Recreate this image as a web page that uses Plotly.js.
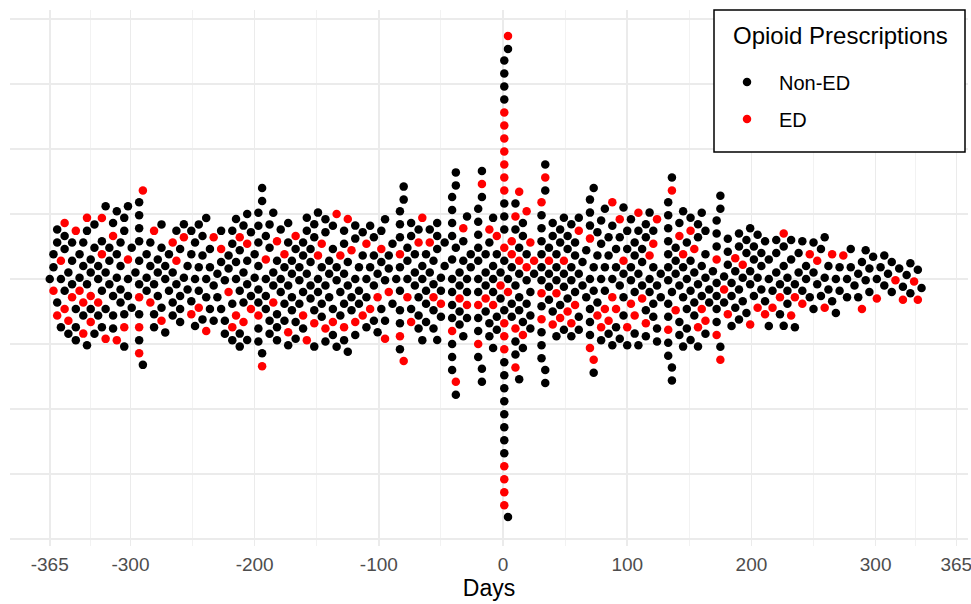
<!DOCTYPE html>
<html><head><meta charset="utf-8">
<script src="https://cdn.plot.ly/plotly-3.0.1.min.js"></script>
<style>html,body{margin:0;padding:0;background:#fff;} #chart{width:971px;height:604px;}</style>
</head><body><div id="chart"></div>
<script>
// Day (relative to index date), binned in 3-day steps
const days = [
 -365,-362,-359,-356,-353,-350,-347,-344,-341,-338,
 -335,-332,-329,-326,-323,-320,-317,-314,-311,-308,
 -305,-302,-299,-296,-293,-290,-287,-284,-281,-278,
 -275,-272,-269,-266,-263,-260,-257,-254,-251,-248,
 -245,-242,-239,-236,-233,-230,-227,-224,-221,-218,
 -215,-212,-209,-206,-203,-200,-197,-194,-191,-188,
 -185,-182,-179,-176,-173,-170,-167,-164,-161,-158,
 -155,-152,-149,-146,-143,-140,-137,-134,-131,-128,
 -125,-122,-119,-116,-113,-110,-107,-104,-101,-98,
 -95,-92,-89,-86,-83,-80,-77,-74,-71,-68,
 -65,-62,-59,-56,-53,-50,-47,-44,-41,-38,
 -35,-32,-29,-26,-23,-20,-17,-14,-11,-8,
 -5,-2,1,4,7,10,13,16,19,22,
 25,28,31,34,37,40,43,46,49,52,
 55,58,61,64,67,70,73,76,79,82,
 85,88,91,94,97,100,103,106,109,112,
 115,118,121,124,127,130,133,136,139,142,
 145,148,151,154,157,160,163,166,169,172,
 175,178,181,184,187,190,193,196,199,202,
 205,208,211,214,217,220,223,226,229,232,
 235,238,241,244,247,250,253,256,259,262,
 265,268,271,274,277,280,283,286,289,292,
 295,298,301,304,307,310,313,316,319,322,
 325,328,331,334,337
];
// Number of Non-ED opioid prescriptions in each bin
const nonED = [
 1,2,3,2,3,2,3,3,2,3,
 3,3,3,3,3,3,3,4,3,4,
 4,3,2,1,8,1,3,2,3,3,
 3,3,2,3,2,4,2,2,3,3,
 3,3,3,3,2,2,3,3,2,4,
 3,4,3,4,2,2,8,3,4,4,
 3,4,3,3,4,4,3,3,4,3,
 4,4,3,3,4,3,4,3,2,5,
 3,2,4,3,2,3,2,4,2,3,
 3,2,2,1,8,2,3,3,3,4,
 3,4,2,4,4,3,2,0,12,4,
 4,3,4,2,0,10,4,4,3,5,
 3,2,17,3,3,5,5,4,3,3,
 1,0,10,4,4,3,4,3,4,3,
 4,3,4,2,2,7,4,3,4,3,
 3,3,3,3,4,3,3,4,3,3,
 4,3,4,3,2,0,11,4,3,4,
 4,4,4,3,4,3,4,2,1,7,
 3,2,3,3,2,4,2,3,3,3,
 2,3,2,3,1,3,2,3,3,2,
 2,2,2,2,1,3,1,2,2,2,
 1,2,2,0,2,2,1,2,1,2,
 2,1,1,1,2,1,2,0,1,1,
 1,2,0,1,1
];
// Number of ED opioid prescriptions in each bin
const ED = [
 0,1,1,1,2,1,1,1,1,2,
 1,2,0,1,2,1,0,1,1,0,
 1,1,0,0,3,1,0,1,1,0,
 1,0,0,1,1,0,1,0,1,0,
 1,0,1,0,1,0,1,0,1,1,
 1,1,1,1,1,0,1,1,1,0,
 1,1,0,1,1,0,1,0,1,1,
 0,1,1,1,1,0,1,1,1,1,
 1,1,1,0,1,1,1,0,1,1,
 1,1,0,0,2,1,1,1,0,1,
 1,0,1,1,0,1,0,0,1,1,
 1,1,1,0,0,2,1,1,1,1,
 1,1,15,2,2,3,2,1,2,1,
 1,0,3,1,1,1,1,1,1,1,
 1,1,1,0,0,2,1,1,1,1,
 1,2,1,1,1,1,1,1,1,1,
 1,1,1,1,0,0,1,1,1,1,
 1,0,1,1,1,1,1,0,0,2,
 1,1,1,0,1,0,1,0,1,0,
 1,0,1,0,1,0,1,1,0,1,
 1,0,1,0,1,0,1,0,1,0,
 1,0,0,1,0,0,0,0,1,0,
 0,0,1,0,0,0,0,1,0,1,
 0,0,1,1,0
];
const tickVals = [-365,-300,-200,-100,0,100,200,300,365];
const tickText = ['-365','-300','-200','-100','0','100','200','300','365'];
const minorVals = [-332.5,-250,-150,-50,50,150,250,332.5];
const legendTitle = 'Opioid Prescriptions';

const W = 971, H = 604;
const M = {l:10, r:3, t:10, b:58};
const plotW = W - M.l - M.r, plotH = H - M.t - M.b;
const xRange = [-397, 374.4];
const pxPerUnitY = 65;
const yRange = [-(plotH - 269) / pxPerUnitY, 269 / pxPerUnitY];
const pxPerDay = plotW / (xRange[1] - xRange[0]);
const px2fx = px => (px - M.l) / plotW;
const py2fy = py => (H - M.b - py) / plotH;

// expand bins into individual prescriptions (ED interleaved among Non-ED)
const pts = [];
days.forEach((d, i) => {
  const n = nonED[i], m = ED[i], T = n + m;
  for (let p = 0; p < T; p++) {
    const red = m > 0 && Math.floor((p + 0.5) * m / T + 0.5) > Math.floor((p - 0.5) * m / T + 0.5);
    pts.push({day: d, red: red});
  }
});

// beeswarm layout (swarm, ascending priority) in screen pixels
const DX = 8.6, DY = 13;
const placed = [];
pts.forEach(pt => {
  const xp = pt.day * pxPerDay;
  const nb = [];
  for (const q of placed) {
    const dx = Math.abs(q.xp - xp);
    if (dx < DX) nb.push({y: q.yp, need: DY * Math.sqrt(1 - (dx / DX) ** 2)});
  }
  const cands = [0];
  nb.forEach(o => { cands.push(o.y + o.need, o.y - o.need); });
  let best = null;
  for (const c of cands) {
    let ok = true;
    for (const o of nb) { if (Math.abs(c - o.y) < o.need - 1e-7) { ok = false; break; } }
    if (ok && (best === null || Math.abs(c) < Math.abs(best) - 1e-9)) best = c;
  }
  pt.xp = xp; pt.yp = best;
  placed.push(pt);
});

const blk = pts.filter(p => !p.red), rd = pts.filter(p => p.red);
const font = 'Liberation Sans, Arial, sans-serif';
const traces = [
  {type:'scatter', mode:'markers', name:'Non-ED', legendgroup:'a',
   x: blk.map(p => p.day), y: blk.map(p => p.yp / pxPerUnitY),
   marker:{color:'#000000', size:8.5, line:{width:0}}, hoverinfo:'x'},
  {type:'scatter', mode:'markers', name:'ED', legendgroup:'b',
   x: rd.map(p => p.day), y: rd.map(p => p.yp / pxPerUnitY),
   marker:{color:'#FF0000', size:8.5, line:{width:0}}, hoverinfo:'x'}
];
const layout = {
  width: W, height: H, margin: M,
  paper_bgcolor:'#ffffff', plot_bgcolor:'#ffffff',
  font:{family: font, color:'#000'},
  xaxis:{range:xRange, tickmode:'array', tickvals:tickVals, ticktext:tickText,
    showgrid:true, gridcolor:'#EBEBEB', gridwidth:1.6, zeroline:false, showline:false,
    ticks:'outside', ticklen:1, tickcolor:'rgba(0,0,0,0)', ticklabeloverflow:'allow',
    tickfont:{size:19, color:'#4D4D4D', family:font},
    minor:{tickmode:'array', tickvals:minorVals, showgrid:true, gridcolor:'#F2F2F2', gridwidth:1, ticks:''},
    title:{text:'Days', font:{size:23, color:'#000', family:font}, standoff:5}},
  yaxis:{range:yRange, tick0:0, dtick:1, showticklabels:false, showgrid:true,
    gridcolor:'#EBEBEB', gridwidth:1.4, zeroline:false, showline:false, ticks:''},
  showlegend:true,
  legend:{x:px2fx(715), xanchor:'left', y:py2fy(62.5), yanchor:'top',
    bgcolor:'rgba(0,0,0,0)', borderwidth:0, itemwidth:54,
    font:{size:20, family:font, color:'#000'}, tracegroupgap:8},
  shapes:[{type:'rect', xref:'paper', yref:'paper', layer:'above',
    x0:px2fx(714), x1:px2fx(965), y0:py2fy(152), y1:py2fy(10),
    line:{color:'#000000', width:1.5}, fillcolor:'#ffffff'}],
  annotations:[{text:legendTitle, xref:'paper', yref:'paper', x:px2fx(840), y:py2fy(35),
    xanchor:'center', yanchor:'middle', showarrow:false,
    font:{size:24, family:font, color:'#000'}}]
};
Plotly.newPlot('chart', traces, layout, {displayModeBar:false, staticPlot:true});
</script>
</body></html>
